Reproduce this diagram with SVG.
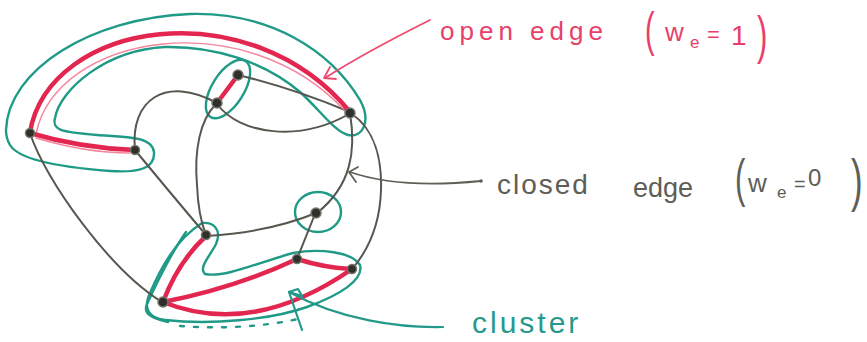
<svg xmlns="http://www.w3.org/2000/svg" width="867" height="342" viewBox="0 0 867 342">
<style>
.closed{stroke:#57574f;stroke-width:2;fill:none;stroke-linecap:round}
.open{stroke:#e3264f;stroke-width:4.5;fill:none;stroke-linecap:round}
.open2{stroke:#f2708c;stroke-width:1.4;fill:none;stroke-linecap:round;opacity:.85}
.cluster{stroke:#1f9a86;stroke-width:2.4;fill:none;stroke-linejoin:round;stroke-linecap:round}
.node{fill:#2f2f2b;stroke:#74746a;stroke-width:1.5}
.ann-red{stroke:#ee4a70;stroke-width:1.8;fill:none;stroke-linecap:round;stroke-linejoin:round}
.ann-gray{stroke:#5f5f57;stroke-width:1.8;fill:none;stroke-linecap:round;stroke-linejoin:round}
.ann-teal{stroke:#22998a;stroke-width:2.2;fill:none;stroke-linecap:round;stroke-linejoin:round}
.t{font-family:"Liberation Sans",Arial,sans-serif}
.tr{fill:#e8406a}
.tg{fill:#5e5e56}
.tt{fill:#27998a}
</style>
<rect width="867" height="342" fill="#ffffff"/>

<g id="clusters">
  <path id="cluster-top" class="cluster" d="M6,130 C8,70 90,18 190,14 C270,12 330,50 360,100 C372,122 362,138 348,135 C335,132 320,110 300,92 C265,62 215,46 165,47 C105,50 60,90 55,118 C52,130 60,132 97,135 C125,137 152,136 154,152 C155,168 140,173 110,171 C70,168 20,162 10,145 C7,140 6,135 6,130 Z"/>
  <ellipse id="cluster-cd" class="cluster" cx="228" cy="89" rx="33" ry="16" transform="rotate(-58 228 89)"/>
  <ellipse id="cluster-g" class="cluster" cx="318" cy="212" rx="23" ry="20"/>
  <path id="cluster-bottom" class="cluster" d="M202,223 C214,222 222,230 216,244 C210,256 198,268 205,274 C225,278 260,262 293,253 C320,248 352,252 360,265 C364,280 340,295 307,307 C270,320 210,325 165,320 C148,318 143,308 150,293 C160,270 175,240 202,223 Z"/>
  <path class="cluster" stroke-width="1.6" d="M186,232 C172,252 158,280 147,304 C143,313 150,318 168,322"/>
  <path class="cluster" stroke-width="1.6" stroke-dasharray="4 10" d="M180,326 C220,329 262,327 298,319"/>
</g>

<g id="connectors">
  <path id="e-aj" class="closed" d="M30,133 C45,180 110,270 162,302"/>
  <path id="e-bf" class="closed" d="M135,150 Q172,195 206,235"/>
  <path id="e-bd" class="closed" d="M135,150 C130,100 165,75 217,103"/>
  <path id="e-df" class="closed" d="M216,104 C200,120 194,150 197,185 C198,210 202,225 206,235"/>
  <path id="e-ce" class="closed" d="M238,75 Q292,88 350,112"/>
  <path id="e-de" class="closed" d="M217,104 C240,135 300,142 349,114"/>
  <path id="e-eg" class="closed" d="M350,113 C356,150 352,185 317,213"/>
  <path id="e-ei" class="closed" d="M352,114 C375,130 382,160 381,190 C380,225 368,250 353,268"/>
  <path id="e-fg" class="closed" d="M207,236 Q270,232 316,213"/>
  <path id="e-gh" class="closed" d="M315,214 L297,259"/>

  <path id="e-ae" class="open" d="M30,132 C50,20 250,-10 350,112"/>
  <path class="open2" d="M36,134 C56,34 246,2 346,112"/>
  <path id="e-ab" class="open" d="M30,133 Q80,148 135,150"/>
  <path class="open2" d="M36,138 Q86,153 130,153"/>
  <path id="e-cd" class="open" stroke-width="6" d="M238,75 L217,103"/>
  <path id="e-fj" class="open" d="M206,236 Q178,262 163,302"/>
  <path id="e-jh" class="open" d="M163,302 Q235,288 297,259"/>
  <path id="e-ji" class="open" d="M163,302 Q252,338 352,269"/>
  <path id="e-hi" class="open" stroke-width="3.5" d="M297,259 Q325,268 352,269"/>
</g>

<g id="nodes">
  <g id="node-a"><circle class="node" cx="30" cy="133" r="4.5"/></g>
  <g id="node-b"><circle class="node" cx="135" cy="150" r="4.5"/></g>
  <g id="node-c"><circle class="node" cx="238" cy="75" r="5"/></g>
  <g id="node-d"><circle class="node" cx="217" cy="103" r="5"/></g>
  <g id="node-e"><circle class="node" cx="350" cy="113" r="5"/></g>
  <g id="node-f"><circle class="node" cx="206" cy="235" r="4.5"/></g>
  <g id="node-g"><circle class="node" cx="316" cy="213" r="5"/></g>
  <g id="node-h"><circle class="node" cx="297" cy="259" r="4.5"/></g>
  <g id="node-i"><circle class="node" cx="352" cy="269" r="4.5"/></g>
  <g id="node-j"><circle class="node" cx="163" cy="302" r="5"/></g>
</g>

<g id="annotations">
  <path class="ann-red" d="M430,20 C390,40 350,62 325,78"/>
  <path class="ann-red" d="M330,67 L324,78 L336,79"/>
  <text class="t tr" x="440" y="40" font-size="26" letter-spacing="5">open edge</text>
  <text class="t tr" font-size="48" transform="translate(645,46) scale(0.6,1)">(</text>
  <text class="t tr" x="665" y="41" font-size="26">w</text>
  <text class="t tr" x="690" y="48" font-size="17">e</text>
  <text class="t tr" x="707" y="42" font-size="22">=</text>
  <text class="t tr" x="731" y="45" font-size="28">1</text>
  <text class="t tr" font-size="52" transform="translate(757,53) scale(0.6,1)">)</text>

  <path class="ann-gray" d="M481,181 C440,185 390,186 350,172"/>
  <path class="ann-gray" d="M358,167 L349,172 L356,182"/>
  <circle cx="481" cy="181" r="1.8" fill="#5f5f57"/>
  <text class="t tg" x="497" y="194" font-size="28" letter-spacing="2">closed</text>
  <text class="t tg" x="633" y="197" font-size="27">edge</text>
  <text class="t tg" font-size="52" transform="translate(735,196) scale(0.6,1)">(</text>
  <text class="t tg" x="748" y="192" font-size="26">w</text>
  <text class="t tg" x="777" y="198" font-size="17">e</text>
  <text class="t tg" x="794" y="191" font-size="20">=</text>
  <text class="t tg" x="808" y="186" font-size="24">0</text>
  <text class="t tg" font-size="58" transform="translate(851,200) scale(0.6,1)">)</text>

  <path class="ann-teal" d="M443,327 C400,328 340,320 289,292"/>
  <path class="ann-teal" d="M302,330 L289,292 L298,289 L302,296 L289,292"/>
  <text class="t tt" x="472" y="333" font-size="30" letter-spacing="3">cluster</text>
</g>
</svg>
